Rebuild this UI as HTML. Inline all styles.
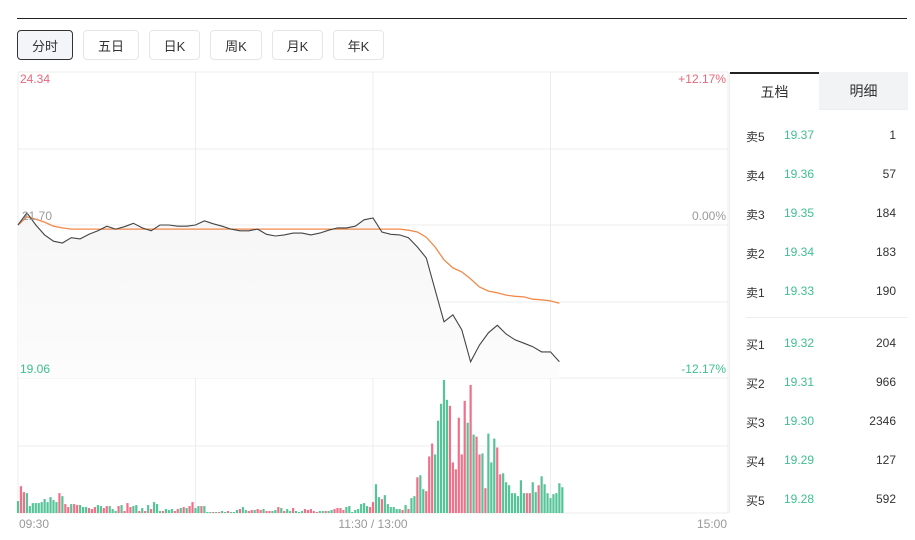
<!DOCTYPE html>
<html><head><meta charset="utf-8">
<style>
body{margin:0;width:915px;height:540px;background:#fff;font-family:"Liberation Sans","Noto Sans CJK SC",sans-serif;overflow:hidden;position:relative}
.topline{position:absolute;left:17px;top:18px;width:890px;height:1px;background:#222}
.btn{position:absolute;top:30px;height:30px;border:1px solid #e6e6e6;border-radius:4px;font-size:13px;color:#333;display:flex;align-items:center;justify-content:center;box-sizing:border-box;background:#fff}
.btn.active{border-color:#333;background:#f3f5f9}
.panel{position:absolute;left:729px;top:72px;width:178px;height:441px;border-left:1px solid #eee}
.tab{position:absolute;top:0;height:38px;font-size:14px;display:flex;align-items:center;justify-content:center;color:#333;box-sizing:border-box}
.row{position:absolute;left:16px;width:150px;height:20px;font-size:12px;color:#333}
.row span{position:absolute;top:0}
</style></head><body>
<div class="topline"></div>
<div class="btn active" style="left:17px;width:56px">分时</div>
<div class="btn" style="left:83px;width:56px">五日</div>
<div class="btn" style="left:149px;width:51px">日K</div>
<div class="btn" style="left:210px;width:52px">周K</div>
<div class="btn" style="left:272px;width:51px">月K</div>
<div class="btn" style="left:333px;width:51px">年K</div>

<svg id="chart" width="915" height="540" style="position:absolute;left:0;top:0">
<defs><linearGradient id="fillg" x1="0" y1="0" x2="0" y2="1"><stop offset="0" stop-color="#f6f6f6"/><stop offset="1" stop-color="#fcfcfc"/></linearGradient></defs>
<g id="grid"></g><g id="vol"></g><g id="lines"></g><g id="labels" font-size="12"></g>
</svg>

<div class="panel">
 <div class="tab" style="left:0;width:89px;border-top:2px solid #222;background:#fff">五档</div>
 <div class="tab" style="left:89px;width:89px;background:#f2f3f5;border-bottom:1px solid #eee">明细</div>
 <div id="rows"></div>
 <div style="position:absolute;left:16px;top:245px;width:162px;height:1px;background:#eee"></div>
</div>

<script>
const prices=[21.70,21.91,21.70,21.53,21.42,21.39,21.48,21.46,21.54,21.60,21.68,21.63,21.67,21.73,21.65,21.60,21.70,21.70,21.68,21.68,21.70,21.77,21.72,21.68,21.63,21.60,21.60,21.63,21.54,21.51,21.53,21.56,21.56,21.53,21.56,21.61,21.65,21.65,21.68,21.79,21.82,21.58,21.54,21.53,21.48,21.32,21.13,20.58,20.03,20.15,19.89,19.34,19.63,19.84,19.97,19.82,19.72,19.66,19.60,19.51,19.51,19.34];
const avgPrices=[21.70,21.84,21.80,21.75,21.68,21.65,21.63,21.63,21.63,21.63,21.63,21.63,21.63,21.63,21.63,21.63,21.63,21.63,21.63,21.63,21.63,21.63,21.63,21.63,21.63,21.63,21.63,21.63,21.63,21.63,21.63,21.63,21.63,21.63,21.63,21.63,21.63,21.63,21.63,21.63,21.63,21.63,21.63,21.63,21.61,21.58,21.49,21.32,21.10,20.96,20.89,20.77,20.63,20.56,20.53,20.49,20.47,20.46,20.42,20.41,20.39,20.35];
const volumes=[12,27,21,20,7,10,10,10,11,14,11,16,13,11,20,17,9,6,9,9,8,8,6,6,5,4,6,8,7,5,7,7,4,2,7,8,2,10,6,7,8,2,5,2,8,4,11,9,2,2,4,3,4,2,4,5,6,5,7,11,5,7,7,7,1,1,1,1,1,2,1,2,1,1,3,4,6,3,2,3,3,4,3,4,2,2,2,3,6,5,2,4,2,5,2,1,2,4,3,4,2,1,2,2,2,2,3,4,5,5,3,6,7,1,3,4,9,10,7,6,11,29,16,14,18,9,6,6,4,4,3,8,4,15,17,36,38,24,22,57,70,59,93,110,134,114,108,51,44,96,59,113,91,129,79,77,59,60,25,80,51,75,66,39,40,31,28,20,20,17,33,20,20,20,31,21,28,37,29,20,15,19,20,30,26];
const volColors="grrgggggggggggrgrrgrrgggrrrggrrgggrgrrrggrgrgrgggrgggrrgrgrrggrgggrgrggrgggrggrrgrrgrrggrgrggrgggrrrrrggrggrrrrggggggggrrggrggggggrgrggrggrrrgggggrrrrrrgrgrrgrgggrrggggggggrrggrggg";
const priceTicks=["24.34","21.70","19.06"];
const pctTicks=["+12.17%","0.00%","-12.17%"];
const timeTicks=["09:30","11:30 / 13:00","15:00"];
const book=[["卖5","19.37","1"],["卖4","19.36","57"],["卖3","19.35","184"],["卖2","19.34","183"],["卖1","19.33","190"],["买1","19.32","204"],["买2","19.31","966"],["买3","19.30","2346"],["买4","19.29","127"],["买5","19.28","592"]];

const NS="http://www.w3.org/2000/svg";
const X0=18,X1=728,PT=72,PB=378,VT=380,VB=513;
const pMax=24.34,pMin=19.06,volMax=134,totalMin=240,step=3;
const xOf=m=>X0+m*(X1-X0)/totalMin;
const yP=p=>PT+(pMax-p)/(pMax-pMin)*(PB-PT);
const yV=v=>VB-v/volMax*(VB-VT);
function mk(tag,attrs,parent){const e=document.createElementNS(NS,tag);for(const k in attrs)e.setAttribute(k,attrs[k]);parent.appendChild(e);return e;}
const grid=document.getElementById('grid');
[72,149,225,302,378,446,513].forEach(y=>{const l=mk('line',{x1:X0,x2:X1,y1:y,y2:y,stroke:'#ececec'},grid);

});
[0,60,120,180,240].forEach(m=>{const l=mk('line',{x1:xOf(m),x2:xOf(m),y1:PT,y2:VB,stroke:'#ececec'},grid);

});
const vol=document.getElementById('vol');
volumes.forEach((v,i)=>{const x=xOf(i);const r=mk('rect',{x:x-1.1,y:yV(v),width:2.2,height:VB-yV(v),fill:volColors[i]==='r'?'#f07088':'#55c498'},vol);

});
const lines=document.getElementById('lines');
const pts=prices.map((p,i)=>xOf(i*step).toFixed(1)+','+yP(p).toFixed(1));
const area=mk('polygon',{points:pts.join(' ')+' '+xOf((prices.length-1)*step)+','+PB+' '+X0+','+PB,fill:'url(#fillg)'},lines);


const avg=mk('polyline',{points:avgPrices.map((p,i)=>xOf(i*step).toFixed(1)+','+yP(p).toFixed(1)).join(' '),fill:'none',stroke:'#f08a4b','stroke-width':1.3},lines);


const pl=mk('polyline',{points:pts.join(' '),fill:'none',stroke:'#444','stroke-width':1.1},lines);


const lab=document.getElementById('labels');
function txt(s,x,y,anchor,color,name){const t=mk('text',{x:x,y:y,'text-anchor':anchor,fill:color},lab);t.textContent=s;

}
const cols=['#e8677a','#999','#3fbf8f'];
const ly=[83,220,373];
priceTicks.forEach((s,i)=>txt(s,i==1?22:20,ly[i],'start',cols[i],'price-tick-label'));
pctTicks.forEach((s,i)=>txt(s,726,ly[i],'end',cols[i],'percent-tick-label'));
txt(timeTicks[0],19,528,'start','#999','time-tick-label');
txt(timeTicks[1],xOf(120),528,'middle','#999','time-tick-label');
txt(timeTicks[2],727,528,'end','#999','time-tick-label');
const rows=document.getElementById('rows');
const rowY=[56,95,134,173,212,264,303,342,381,420];
book.forEach((b,i)=>{const d=document.createElement('div');d.className='row';d.style.top=rowY[i]+'px';
d.innerHTML='<span style="left:0">'+b[0]+'</span><span style="left:38px;color:#3fbf8f">'+b[1]+'</span><span style="right:0">'+b[2]+'</span>';


rows.appendChild(d);});
</script>
</body></html>
